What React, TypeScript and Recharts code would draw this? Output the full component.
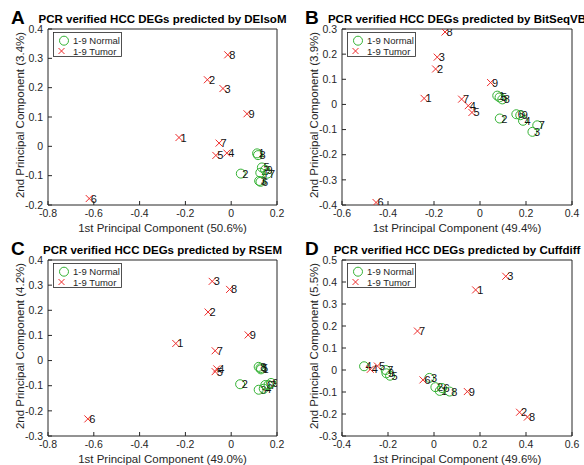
import { Legend, Scatter, ScatterChart, XAxis, YAxis } from "recharts";

type Sample = { x: number; y: number; id: string };

const ink = "#262626";
const normalColor = "#34b234";
const tumorColor = "#ee2c2c";
const font = '"Liberation Sans", Arial, Helvetica, sans-serif';

// DEIsoM
const deisomNormal: Sample[] = [
  { x: 0.113, y: -0.024, id: "1" },
  { x: 0.042, y: -0.093, id: "2" },
  { x: 0.122, y: -0.118, id: "3" },
  { x: 0.127, y: -0.09, id: "4" },
  { x: 0.134, y: -0.072, id: "5" },
  { x: 0.128, y: -0.121, id: "6" },
  { x: 0.158, y: -0.093, id: "7" },
  { x: 0.117, y: -0.03, id: "8" },
  { x: 0.148, y: -0.08, id: "9" },
];
const deisomTumor: Sample[] = [
  { x: -0.228, y: 0.03, id: "1" },
  { x: -0.104, y: 0.227, id: "2" },
  { x: -0.036, y: 0.197, id: "3" },
  { x: -0.019, y: -0.023, id: "4" },
  { x: -0.067, y: -0.031, id: "5" },
  { x: -0.62, y: -0.178, id: "6" },
  { x: -0.053, y: 0.011, id: "7" },
  { x: -0.015, y: 0.312, id: "8" },
  { x: 0.069, y: 0.111, id: "9" },
];

// BitSeqVB
const bitseqNormal: Sample[] = [
  { x: 0.075, y: 0.035, id: "1" },
  { x: 0.086, y: -0.056, id: "2" },
  { x: 0.228, y: -0.109, id: "3" },
  { x: 0.187, y: -0.065, id: "4" },
  { x: 0.085, y: 0.028, id: "5" },
  { x: 0.158, y: -0.039, id: "6" },
  { x: 0.249, y: -0.083, id: "7" },
  { x: 0.097, y: 0.02, id: "8" },
  { x: 0.175, y: -0.043, id: "9" },
];
const bitseqTumor: Sample[] = [
  { x: -0.243, y: 0.024, id: "1" },
  { x: -0.193, y: 0.141, id: "2" },
  { x: -0.186, y: 0.188, id: "3" },
  { x: -0.051, y: -0.005, id: "4" },
  { x: -0.035, y: -0.032, id: "5" },
  { x: -0.452, y: -0.39, id: "6" },
  { x: -0.08, y: 0.021, id: "7" },
  { x: -0.152, y: 0.288, id: "8" },
  { x: 0.046, y: 0.087, id: "9" },
];

// RSEM
const rsemNormal: Sample[] = [
  { x: 0.13, y: -0.035, id: "1" },
  { x: 0.039, y: -0.094, id: "2" },
  { x: 0.12, y: -0.116, id: "3" },
  { x: 0.142, y: -0.112, id: "4" },
  { x: 0.128, y: -0.03, id: "5" },
  { x: 0.149, y: -0.097, id: "6" },
  { x: 0.163, y: -0.097, id: "7" },
  { x: 0.12, y: -0.025, id: "8" },
  { x: 0.174, y: -0.089, id: "9" },
];
const rsemTumor: Sample[] = [
  { x: -0.242, y: 0.068, id: "1" },
  { x: -0.101, y: 0.193, id: "2" },
  { x: -0.083, y: 0.315, id: "3" },
  { x: -0.063, y: -0.033, id: "4" },
  { x: -0.07, y: -0.044, id: "5" },
  { x: -0.626, y: -0.232, id: "6" },
  { x: -0.07, y: 0.039, id: "7" },
  { x: -0.007, y: 0.283, id: "8" },
  { x: 0.074, y: 0.102, id: "9" },
];

// Cuffdiff
const cuffdiffNormal: Sample[] = [
  { x: 0.025, y: -0.095, id: "1" },
  { x: 0.006, y: -0.078, id: "2" },
  { x: -0.02, y: -0.036, id: "3" },
  { x: -0.304, y: 0.017, id: "4" },
  { x: -0.191, y: -0.026, id: "5" },
  { x: 0.035, y: -0.082, id: "6" },
  { x: -0.21, y: 0.0, id: "7" },
  { x: 0.068, y: -0.098, id: "8" },
  { x: -0.207, y: -0.015, id: "9" },
];
const cuffdiffTumor: Sample[] = [
  { x: 0.181, y: 0.364, id: "1" },
  { x: 0.372, y: -0.192, id: "2" },
  { x: 0.312, y: 0.426, id: "3" },
  { x: -0.277, y: 0.003, id: "4" },
  { x: -0.246, y: 0.018, id: "5" },
  { x: -0.048, y: -0.045, id: "6" },
  { x: -0.072, y: 0.177, id: "7" },
  { x: 0.406, y: -0.214, id: "8" },
  { x: 0.145, y: -0.098, id: "9" },
];

const xTicksWide = [-0.8, -0.6, -0.4, -0.2, 0, 0.2];
const xTicksB = [-0.6, -0.4, -0.2, 0, 0.2, 0.4];
const xTicksD = [-0.4, -0.2, 0, 0.2, 0.4, 0.6];
const yTicksA = [-0.2, -0.1, 0, 0.1, 0.2, 0.3, 0.4];
const yTicksB = [-0.4, -0.3, -0.2, -0.1, 0, 0.1, 0.2, 0.3];
const yTicksC = [-0.3, -0.2, -0.1, 0, 0.1, 0.2, 0.3, 0.4];
const yTicksD = [-0.3, -0.2, -0.1, 0, 0.1, 0.2, 0.3, 0.4, 0.5];

const NormalMark = (props: any) => {
  const { cx, cy, payload } = props;
  return (
    <g>
      <circle cx={cx} cy={cy} r={4.5} fill="none" stroke={normalColor} strokeWidth={1} />
      <text x={cx + 1.5} y={cy + 4} fontSize={11} fill="#111" fontFamily={font}>
        {payload.id}
      </text>
    </g>
  );
};

const TumorMark = (props: any) => {
  const { cx, cy, payload } = props;
  const s = 3.5;
  return (
    <g>
      <path
        d={`M${cx - s} ${cy - s}L${cx + s} ${cy + s}M${cx + s} ${cy - s}L${cx - s} ${cy + s}`}
        stroke={tumorColor}
        strokeWidth={1}
      />
      <text x={cx + 1.5} y={cy + 4} fontSize={11} fill="#111" fontFamily={font}>
        {payload.id}
      </text>
    </g>
  );
};

function LegendBox() {
  return (
    <svg width={70} height={26} style={{ display: "block" }}>
      <rect x={0.5} y={0.5} width={68} height={24} fill="#fff" stroke={ink} strokeWidth={0.8} />
      <circle cx={11} cy={8.7} r={4.5} fill="none" stroke={normalColor} />
      <text x={20} y={12} fontSize={9.5} fill={ink} fontFamily={font}>
        1-9 Normal
      </text>
      <path d="M5.5 16 L11.5 22 M11.5 16 L5.5 22" stroke={tumorColor} />
      <text x={20} y={22.5} fontSize={9.5} fill={ink} fontFamily={font}>
        1-9 Tumor
      </text>
    </svg>
  );
}

const yTitle = (text: string) => (props: any) => {
  const vb = props.viewBox;
  const cx = vb.x + 19.5;
  const cy = vb.y + vb.height / 2 - 2;
  return (
    <text
      x={cx}
      y={cy}
      transform={`rotate(-90 ${cx} ${cy})`}
      textAnchor="middle"
      dominantBaseline="central"
      fill={ink}
      fontSize={11.5}
      fontFamily={font}
    >
      {text}
    </text>
  );
};

interface PanelProps {
  letter: string;
  method: string;
  xPct: string;
  yPct: string;
  xTicks: number[];
  yTicks: number[];
  normal: Sample[];
  tumor: Sample[];
  left: number;
  top: number;
  width: number;
  rightPad: number;
}

function Panel({ letter, method, xPct, yPct, xTicks, yTicks, normal, tumor, left, top, width, rightPad }: PanelProps) {
  // extra room below so the x label's descenders are not clipped
  const height = 242;
  const plotLeft = 48;
  const plotCenter = (plotLeft + width - rightPad) / 2;
  const xDomain = [xTicks[0], xTicks[xTicks.length - 1]];
  const yDomain = [yTicks[0], yTicks[yTicks.length - 1]];
  const tickStyle = { fill: ink, fontSize: 10.5, fontFamily: font };
  return (
    <div style={{ position: "absolute", left, top, width, height }}>
      <div
        style={{
          position: "absolute",
          left: 11,
          top: 7.5,
          fontSize: 19,
          fontWeight: 700,
          lineHeight: 1,
          fontFamily: font,
          color: "#000",
        }}
      >
        {letter}
      </div>
      <div
        style={{
          position: "absolute",
          left: plotCenter - 140,
          width: 280,
          top: 14.3,
          textAlign: "center",
          whiteSpace: "nowrap",
          fontSize: 11.5,
          fontWeight: 700,
          lineHeight: 1,
          fontFamily: font,
          color: "#000",
        }}
      >
        PCR verified HCC DEGs predicted by {method}
      </div>
      <ScatterChart width={width} height={height} margin={{ top: 28, right: rightPad - 1, bottom: 23, left: 0 }}>
        <XAxis
          xAxisId="b"
          type="number"
          dataKey="x"
          domain={xDomain}
          ticks={xTicks}
          interval={0}
          allowDataOverflow
          height={14}
          tickSize={-4}
          tickMargin={9}
          stroke={ink}
          tick={tickStyle}
          label={{
            value: `1st Principal Component (${xPct})`,
            position: "bottom",
            offset: 4.5,
            fill: ink,
            fontSize: 11.5,
            fontFamily: font,
          }}
        />
        <XAxis
          xAxisId="t"
          orientation="top"
          type="number"
          domain={xDomain}
          ticks={xTicks}
          interval={0}
          allowDataOverflow
          height={1}
          tickSize={-4}
          tick={false}
          stroke={ink}
        />
        <YAxis
          yAxisId="l"
          type="number"
          dataKey="y"
          domain={yDomain}
          ticks={yTicks}
          interval={0}
          allowDataOverflow
          width={48}
          tickSize={-4}
          tickMargin={9}
          stroke={ink}
          tick={tickStyle}
          label={{ content: yTitle(`2nd Principal Component (${yPct})`) }}
        />
        <YAxis
          yAxisId="r"
          orientation="right"
          type="number"
          domain={yDomain}
          ticks={yTicks}
          interval={0}
          allowDataOverflow
          width={1}
          tickSize={-4}
          tick={false}
          stroke={ink}
        />
        <Legend
          layout="vertical"
          align="center"
          verticalAlign="middle"
          wrapperStyle={{ left: plotLeft + 5, top: 32, width: 70, height: 26, lineHeight: 0 }}
          content={() => <LegendBox />}
        />
        <Scatter
          name="1-9 Normal"
          data={normal}
          xAxisId="b"
          yAxisId="l"
          shape={NormalMark}
          isAnimationActive={false}
        />
        <Scatter
          name="1-9 Tumor"
          data={tumor}
          xAxisId="b"
          yAxisId="l"
          shape={TumorMark}
          isAnimationActive={false}
        />
      </ScatterChart>
    </div>
  );
}

export default function App() {
  return (
    <div style={{ position: "absolute", left: 0, top: 0, width: 584, height: 465, background: "#fff", overflow: "hidden" }}>
      <Panel
        letter="A"
        method="DEIsoM"
        xPct="50.6%"
        yPct="3.4%"
        xTicks={xTicksWide}
        yTicks={yTicksA}
        normal={deisomNormal}
        tumor={deisomTumor}
        left={0}
        top={0}
        width={292}
        rightPad={15}
      />
      <Panel
        letter="B"
        method="BitSeqVB"
        xPct="49.4%"
        yPct="3.9%"
        xTicks={xTicksB}
        yTicks={yTicksB}
        normal={bitseqNormal}
        tumor={bitseqTumor}
        left={294}
        top={0}
        width={290}
        rightPad={12}
      />
      <Panel
        letter="C"
        method="RSEM"
        xPct="49.0%"
        yPct="4.2%"
        xTicks={xTicksWide}
        yTicks={yTicksC}
        normal={rsemNormal}
        tumor={rsemTumor}
        left={0}
        top={231}
        width={292}
        rightPad={15}
      />
      <Panel
        letter="D"
        method="Cuffdiff"
        xPct="49.6%"
        yPct="5.5%"
        xTicks={xTicksD}
        yTicks={yTicksD}
        normal={cuffdiffNormal}
        tumor={cuffdiffTumor}
        left={294}
        top={231}
        width={290}
        rightPad={12}
      />
    </div>
  );
}
